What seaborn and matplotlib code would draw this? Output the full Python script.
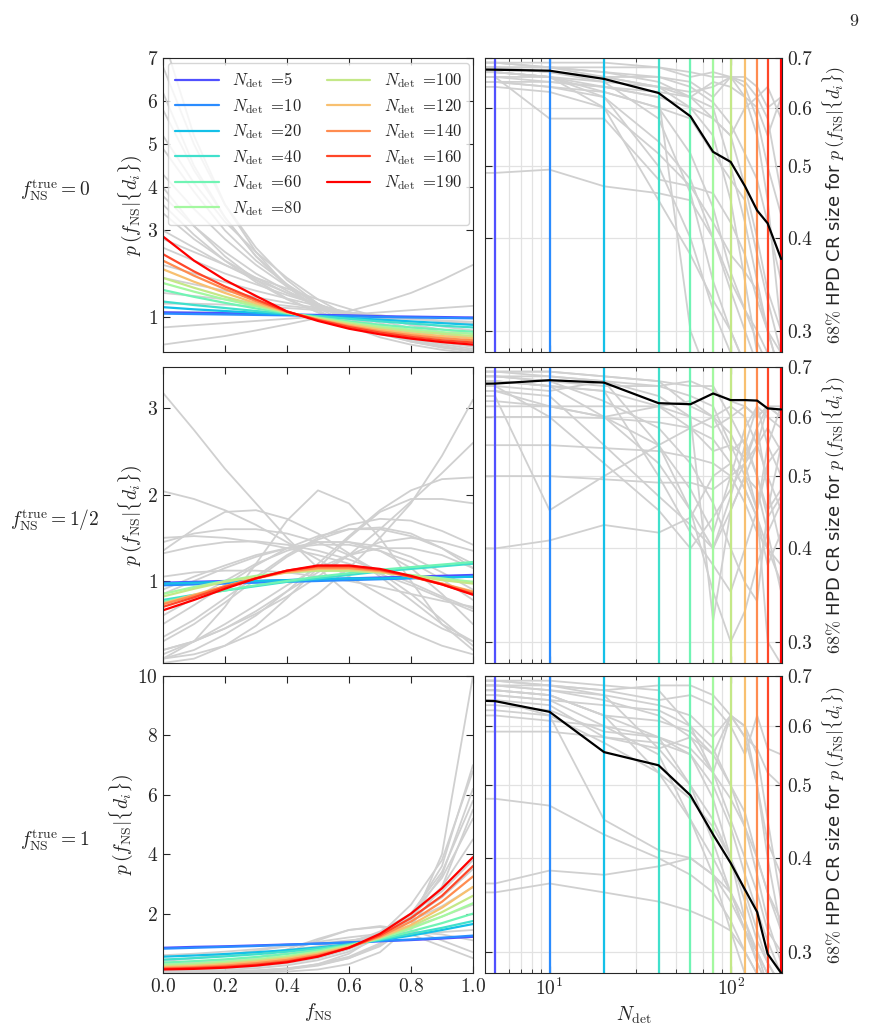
import matplotlib
matplotlib.use("Agg")
import numpy as np
import pandas as pd
import matplotlib.pyplot as plt
import seaborn as sns

# grids
F_GRID = [0.0, 0.1, 0.2, 0.3, 0.4, 0.5, 0.6, 0.7, 0.8, 0.9, 1.0]
N_DET = [5, 10, 20, 40, 60, 80, 100, 120, 140, 160, 190]
N_GRID = [3, 5, 10, 20, 40, 60, 80, 100, 120, 140, 160, 190]
COLORS = ["#5050ff", "#2a8cff", "#14c0e8", "#40e0cc", "#70f4b4", "#a4f8a0",
          "#c4e888", "#f8c070", "#ff8c50", "#ff4628", "#ff0000"]
ROW_LABELS = ["0", "1/2", "1"]

# mean posteriors p(f_NS|{d_i}) for each N_det (rows follow N_DET)
MEAN_F0 = [
    [1.10, 1.09, 1.08, 1.07, 1.05, 1.04, 1.03, 1.01, 1.00, 0.99, 0.98],
    [1.07, 1.06, 1.05, 1.04, 1.03, 1.02, 1.01, 0.99, 0.98, 0.97, 0.96],
    [1.22, 1.17, 1.13, 1.09, 1.05, 1.01, 0.97, 0.93, 0.89, 0.85, 0.81],
    [1.35, 1.27, 1.20, 1.13, 1.07, 1.01, 0.95, 0.89, 0.84, 0.79, 0.75],
    [1.62, 1.46, 1.32, 1.19, 1.08, 0.98, 0.89, 0.81, 0.75, 0.70, 0.65],
    [1.78, 1.58, 1.40, 1.24, 1.09, 0.97, 0.86, 0.77, 0.70, 0.64, 0.60],
    [1.90, 1.67, 1.46, 1.27, 1.10, 0.96, 0.84, 0.74, 0.66, 0.60, 0.55],
    [2.10, 1.81, 1.55, 1.31, 1.10, 0.94, 0.81, 0.70, 0.61, 0.55, 0.50],
    [2.30, 1.95, 1.64, 1.36, 1.11, 0.93, 0.78, 0.66, 0.57, 0.50, 0.45],
    [2.45, 2.05, 1.70, 1.40, 1.12, 0.92, 0.76, 0.63, 0.53, 0.45, 0.40],
    [2.86, 2.30, 1.85, 1.48, 1.12, 0.90, 0.72, 0.59, 0.49, 0.41, 0.35],
]
MEAN_FHALF = [
    [0.98, 0.99, 1.00, 1.00, 1.01, 1.02, 1.03, 1.04, 1.05, 1.06, 1.07],
    [0.95, 0.96, 0.97, 0.98, 0.99, 1.00, 1.01, 1.02, 1.03, 1.04, 1.05],
    [0.97, 0.98, 0.99, 1.00, 1.01, 1.02, 1.03, 1.03, 1.04, 1.04, 1.05],
    [0.78, 0.84, 0.89, 0.94, 0.99, 1.03, 1.07, 1.11, 1.14, 1.17, 1.20],
    [0.76, 0.83, 0.89, 0.95, 1.00, 1.05, 1.09, 1.13, 1.16, 1.19, 1.22],
    [0.85, 0.93, 1.00, 1.06, 1.10, 1.12, 1.12, 1.10, 1.07, 1.03, 0.99],
    [0.82, 0.91, 0.99, 1.05, 1.10, 1.12, 1.12, 1.10, 1.06, 1.01, 0.97],
    [0.74, 0.84, 0.94, 1.03, 1.10, 1.14, 1.14, 1.11, 1.05, 0.97, 0.88],
    [0.73, 0.83, 0.94, 1.03, 1.11, 1.15, 1.15, 1.12, 1.05, 0.97, 0.87],
    [0.70, 0.81, 0.93, 1.03, 1.12, 1.17, 1.17, 1.13, 1.05, 0.96, 0.85],
    [0.66, 0.78, 0.91, 1.03, 1.12, 1.18, 1.18, 1.14, 1.06, 0.96, 0.84],
]
MEAN_F1 = [
    [0.85, 0.88, 0.90, 0.93, 0.96, 0.99, 1.03, 1.07, 1.11, 1.16, 1.22],
    [0.82, 0.85, 0.88, 0.91, 0.95, 0.99, 1.03, 1.08, 1.13, 1.19, 1.26],
    [0.55, 0.59, 0.64, 0.70, 0.77, 0.86, 0.97, 1.10, 1.26, 1.45, 1.65],
    [0.45, 0.50, 0.56, 0.63, 0.72, 0.83, 0.96, 1.12, 1.32, 1.52, 1.75],
    [0.35, 0.40, 0.46, 0.54, 0.64, 0.77, 0.94, 1.14, 1.40, 1.68, 2.00],
    [0.28, 0.32, 0.38, 0.46, 0.57, 0.72, 0.92, 1.17, 1.50, 1.90, 2.35],
    [0.24, 0.28, 0.34, 0.42, 0.53, 0.69, 0.90, 1.19, 1.57, 2.05, 2.60],
    [0.20, 0.24, 0.30, 0.38, 0.49, 0.65, 0.88, 1.20, 1.62, 2.20, 2.90],
    [0.17, 0.20, 0.25, 0.33, 0.44, 0.61, 0.86, 1.23, 1.73, 2.40, 3.25],
    [0.14, 0.17, 0.21, 0.28, 0.39, 0.57, 0.85, 1.27, 1.85, 2.60, 3.60],
    [0.12, 0.14, 0.18, 0.25, 0.36, 0.55, 0.85, 1.32, 2.00, 2.85, 3.90],
]

# individual realisations (grey)
POST_F0 = [
    [7.5, 5.2, 3.6, 2.5, 1.7, 1.15, 0.78, 0.52, 0.35, 0.23, 0.15],
    [6.8, 5.0, 3.6, 2.6, 1.85, 1.3, 0.9, 0.62, 0.42, 0.28, 0.19],
    [6.2, 4.5, 3.3, 2.4, 1.7, 1.2, 0.85, 0.6, 0.42, 0.3, 0.2],
    [5.8, 4.4, 3.3, 2.4, 1.75, 1.25, 0.9, 0.63, 0.44, 0.3, 0.2],
    [5.2, 4.1, 3.2, 2.5, 1.9, 1.4, 1.0, 0.7, 0.48, 0.32, 0.21],
    [4.9, 3.9, 3.0, 2.3, 1.75, 1.3, 0.95, 0.7, 0.5, 0.36, 0.25],
    [4.3, 3.5, 2.8, 2.2, 1.7, 1.3, 0.98, 0.73, 0.54, 0.4, 0.3],
    [4.0, 3.1, 2.4, 1.85, 1.42, 1.1, 0.86, 0.68, 0.55, 0.45, 0.38],
    [3.8, 3.1, 2.5, 2.0, 1.6, 1.25, 0.98, 0.76, 0.58, 0.44, 0.33],
    [3.6, 2.9, 2.3, 1.8, 1.4, 1.1, 0.87, 0.69, 0.56, 0.46, 0.4],
    [3.4, 2.8, 2.3, 1.9, 1.55, 1.25, 1.0, 0.8, 0.63, 0.5, 0.4],
    [3.0, 2.6, 2.2, 1.85, 1.55, 1.28, 1.05, 0.85, 0.68, 0.53, 0.42],
    [2.8, 2.5, 2.2, 1.9, 1.65, 1.4, 1.18, 0.98, 0.8, 0.64, 0.5],
    [2.6, 2.3, 2.0, 1.75, 1.5, 1.28, 1.08, 0.9, 0.74, 0.6, 0.48],
    [2.2, 2.0, 1.8, 1.6, 1.42, 1.25, 1.1, 0.95, 0.82, 0.7, 0.6],
    [1.9, 1.75, 1.6, 1.45, 1.32, 1.2, 1.08, 0.97, 0.87, 0.77, 0.68],
    [1.55, 1.48, 1.4, 1.33, 1.25, 1.18, 1.1, 1.03, 0.96, 0.9, 0.84],
    [1.3, 1.3, 1.28, 1.24, 1.2, 1.15, 1.09, 1.03, 0.96, 0.89, 0.82],
    [1.1, 1.1, 1.1, 1.08, 1.06, 1.03, 1.0, 0.97, 0.94, 0.91, 0.88],
    [0.75, 0.8, 0.85, 0.9, 0.95, 1.0, 1.05, 1.1, 1.15, 1.2, 1.25],
    [0.35, 0.45, 0.55, 0.68, 0.82, 0.97, 1.13, 1.32, 1.55, 1.85, 2.2],
]
POST_FHALF = [
    [3.18, 2.75, 2.3, 1.9, 1.5, 1.15, 0.85, 0.6, 0.4, 0.25, 0.15],
    [0.1, 0.15, 0.25, 0.4, 0.6, 0.85, 1.15, 1.5, 1.9, 2.45, 3.1],
    [2.04, 1.95, 1.82, 1.65, 1.45, 1.25, 1.05, 0.85, 0.65, 0.45, 0.3],
    [0.1, 0.3, 0.7, 1.2, 1.7, 2.05, 1.9, 1.5, 1.0, 0.5, 0.2],
    [0.2, 0.3, 0.45, 0.62, 0.82, 1.05, 1.3, 1.6, 1.92, 2.25, 2.6],
    [1.35, 1.6, 1.8, 1.82, 1.72, 1.55, 1.32, 1.05, 0.78, 0.5, 0.3],
    [0.35, 0.55, 0.8, 1.05, 1.3, 1.5, 1.65, 1.72, 1.7, 1.58, 1.42],
    [0.1, 0.2, 0.38, 0.6, 0.88, 1.2, 1.52, 1.82, 2.05, 2.18, 2.2],
    [1.5, 1.52, 1.5, 1.45, 1.38, 1.3, 1.2, 1.08, 0.95, 0.8, 0.65],
    [0.5, 0.72, 0.95, 1.18, 1.38, 1.52, 1.6, 1.6, 1.52, 1.38, 1.2],
    [0.3, 0.5, 0.75, 1.02, 1.28, 1.48, 1.6, 1.62, 1.55, 1.38, 1.15],
    [1.32, 1.4, 1.45, 1.46, 1.42, 1.35, 1.25, 1.12, 0.98, 0.82, 0.68],
    [0.05, 0.1, 0.25, 0.48, 0.8, 1.15, 1.5, 1.8, 1.95, 1.95, 1.9],
    [0.85, 1.0, 1.15, 1.28, 1.38, 1.45, 1.45, 1.4, 1.28, 1.1, 0.9],
    [1.05, 1.1, 1.12, 1.12, 1.1, 1.05, 1.0, 0.93, 0.85, 0.77, 0.7],
    [0.2, 0.3, 0.45, 0.65, 0.88, 1.1, 1.3, 1.45, 1.5, 1.45, 1.35],
    [1.45, 1.55, 1.6, 1.6, 1.55, 1.45, 1.3, 1.1, 0.85, 0.55, 0.25],
    [0.6, 0.8, 1.0, 1.2, 1.35, 1.45, 1.45, 1.35, 1.15, 0.85, 0.5],
    [0.15, 0.3, 0.5, 0.72, 0.95, 1.15, 1.3, 1.38, 1.38, 1.3, 1.15],
    [0.9, 1.05, 1.18, 1.3, 1.38, 1.42, 1.42, 1.35, 1.22, 1.02, 0.78],
]
POST_F1 = [
    [0.0, 0.0, 0.01, 0.02, 0.05, 0.12, 0.3, 0.7, 1.6, 4.0, 10.0],
    [0.02, 0.03, 0.05, 0.09, 0.16, 0.3, 0.55, 1.0, 1.9, 3.6, 7.0],
    [0.0, 0.01, 0.02, 0.05, 0.12, 0.3, 0.65, 1.3, 2.3, 3.8, 6.8],
    [0.0, 0.0, 0.02, 0.05, 0.12, 0.25, 0.5, 0.95, 1.8, 3.3, 6.2],
    [0.05, 0.07, 0.1, 0.16, 0.26, 0.43, 0.72, 1.2, 2.0, 3.4, 5.8],
    [0.01, 0.02, 0.04, 0.08, 0.15, 0.28, 0.5, 0.9, 1.6, 2.9, 5.5],
    [0.08, 0.1, 0.15, 0.22, 0.33, 0.5, 0.8, 1.25, 2.0, 3.2, 5.2],
    [0.1, 0.13, 0.18, 0.26, 0.38, 0.56, 0.83, 1.25, 1.9, 2.9, 4.5],
    [0.15, 0.2, 0.27, 0.36, 0.5, 0.7, 1.0, 1.4, 2.0, 2.75, 3.8],
    [0.2, 0.25, 0.32, 0.42, 0.55, 0.75, 1.0, 1.35, 1.85, 2.55, 3.5],
    [0.3, 0.35, 0.42, 0.52, 0.65, 0.82, 1.05, 1.35, 1.75, 2.25, 2.9],
    [0.45, 0.5, 0.57, 0.66, 0.77, 0.9, 1.07, 1.28, 1.55, 1.9, 2.3],
    [0.6, 0.65, 0.72, 0.8, 0.9, 1.0, 1.1, 1.2, 1.3, 1.38, 1.45],
    [0.05, 0.1, 0.2, 0.38, 0.7, 1.1, 1.45, 1.55, 1.3, 0.9, 0.5],
    [0.1, 0.18, 0.3, 0.5, 0.8, 1.15, 1.45, 1.58, 1.45, 1.1, 0.7],
    [0.4, 0.5, 0.62, 0.75, 0.9, 1.05, 1.2, 1.32, 1.38, 1.3, 1.1],
]

# 68% HPD credible region sizes vs N_det (values at N_GRID)
HPD_MEAN = [
    [0.676, 0.675, 0.673, 0.656, 0.628, 0.584, 0.523, 0.507, 0.470, 0.436, 0.419, 0.375],
    [0.664, 0.665, 0.672, 0.667, 0.626, 0.624, 0.645, 0.632, 0.632, 0.631, 0.616, 0.614],
    [0.650, 0.648, 0.627, 0.554, 0.532, 0.485, 0.430, 0.394, 0.363, 0.339, 0.298, 0.281],
]
HPD_F0 = [
    [0.69, 0.69, 0.69, 0.69, 0.68, 0.67, 0.66, 0.66, 0.62, 0.55, 0.45, 0.30],
    [0.68, 0.68, 0.68, 0.68, 0.68, 0.66, 0.67, 0.66, 0.66, 0.64, 0.60, 0.62],
    [0.67, 0.67, 0.66, 0.65, 0.64, 0.60, 0.55, 0.45, 0.35, 0.28, 0.25, 0.22],
    [0.66, 0.66, 0.66, 0.64, 0.63, 0.62, 0.65, 0.64, 0.62, 0.60, 0.55, 0.62],
    [0.65, 0.65, 0.64, 0.62, 0.50, 0.40, 0.32, 0.28, 0.25, 0.24, 0.22, 0.20],
    [0.68, 0.68, 0.67, 0.65, 0.58, 0.46, 0.35, 0.30, 0.27, 0.25, 0.23, 0.22],
    [0.64, 0.64, 0.63, 0.60, 0.45, 0.38, 0.33, 0.30, 0.27, 0.25, 0.23, 0.22],
    [0.69, 0.69, 0.68, 0.66, 0.64, 0.62, 0.60, 0.50, 0.42, 0.35, 0.30, 0.26],
    [0.67, 0.67, 0.66, 0.63, 0.60, 0.58, 0.52, 0.48, 0.45, 0.38, 0.33, 0.28],
    [0.49, 0.49, 0.495, 0.47, 0.46, 0.45, 0.40, 0.35, 0.32, 0.30, 0.28, 0.26],
    [0.66, 0.66, 0.58, 0.58, 0.48, 0.47, 0.46, 0.42, 0.38, 0.33, 0.30, 0.28],
    [0.68, 0.68, 0.67, 0.66, 0.66, 0.64, 0.61, 0.57, 0.52, 0.48, 0.42, 0.35],
    [0.65, 0.65, 0.65, 0.64, 0.62, 0.30, 0.25, 0.22, 0.20, 0.20, 0.20, 0.20],
    [0.67, 0.67, 0.66, 0.62, 0.54, 0.48, 0.40, 0.34, 0.30, 0.27, 0.25, 0.23],
    [0.68, 0.68, 0.67, 0.66, 0.64, 0.63, 0.64, 0.66, 0.64, 0.58, 0.50, 0.43],
    [0.66, 0.66, 0.65, 0.64, 0.62, 0.60, 0.58, 0.55, 0.47, 0.40, 0.34, 0.30],
    [0.69, 0.69, 0.68, 0.67, 0.66, 0.65, 0.62, 0.66, 0.65, 0.62, 0.64, 0.58],
    [0.67, 0.67, 0.66, 0.60, 0.52, 0.47, 0.42, 0.38, 0.36, 0.34, 0.30, 0.26],
    [0.65, 0.65, 0.64, 0.63, 0.60, 0.52, 0.44, 0.36, 0.32, 0.29, 0.27, 0.24],
    [0.68, 0.68, 0.68, 0.67, 0.65, 0.62, 0.58, 0.55, 0.60, 0.62, 0.58, 0.46],
]
HPD_FHALF = [
    [0.69, 0.69, 0.69, 0.68, 0.67, 0.66, 0.66, 0.60, 0.55, 0.62, 0.60, 0.58],
    [0.68, 0.68, 0.67, 0.66, 0.66, 0.64, 0.62, 0.55, 0.50, 0.45, 0.52, 0.55],
    [0.67, 0.67, 0.66, 0.60, 0.52, 0.45, 0.40, 0.47, 0.55, 0.50, 0.45, 0.48],
    [0.66, 0.66, 0.65, 0.67, 0.64, 0.60, 0.32, 0.45, 0.50, 0.55, 0.62, 0.60],
    [0.55, 0.55, 0.55, 0.545, 0.54, 0.53, 0.52, 0.50, 0.46, 0.42, 0.40, 0.38],
    [0.50, 0.50, 0.50, 0.495, 0.49, 0.49, 0.48, 0.50, 0.52, 0.55, 0.58, 0.54],
    [0.40, 0.40, 0.41, 0.43, 0.42, 0.44, 0.50, 0.52, 0.48, 0.44, 0.38, 0.42],
    [0.64, 0.64, 0.45, 0.50, 0.55, 0.58, 0.60, 0.62, 0.60, 0.55, 0.50, 0.45],
    [0.69, 0.69, 0.68, 0.67, 0.55, 0.45, 0.35, 0.30, 0.33, 0.38, 0.42, 0.46],
    [0.67, 0.67, 0.66, 0.65, 0.50, 0.42, 0.38, 0.35, 0.40, 0.45, 0.55, 0.62],
    [0.65, 0.65, 0.62, 0.60, 0.62, 0.63, 0.60, 0.57, 0.52, 0.45, 0.30, 0.28],
    [0.68, 0.68, 0.68, 0.67, 0.66, 0.67, 0.65, 0.63, 0.62, 0.60, 0.62, 0.61],
    [0.66, 0.66, 0.60, 0.52, 0.45, 0.40, 0.44, 0.48, 0.52, 0.58, 0.62, 0.60],
    [0.60, 0.60, 0.60, 0.598, 0.59, 0.58, 0.56, 0.52, 0.48, 0.44, 0.40, 0.36],
    [0.67, 0.67, 0.66, 0.65, 0.62, 0.58, 0.54, 0.55, 0.53, 0.58, 0.48, 0.40],
    [0.63, 0.63, 0.62, 0.60, 0.55, 0.48, 0.42, 0.50, 0.58, 0.62, 0.55, 0.50],
    [0.68, 0.68, 0.67, 0.63, 0.58, 0.52, 0.46, 0.40, 0.36, 0.34, 0.45, 0.55],
    [0.65, 0.65, 0.64, 0.55, 0.47, 0.43, 0.40, 0.45, 0.50, 0.48, 0.42, 0.35],
    [0.69, 0.69, 0.69, 0.68, 0.67, 0.62, 0.60, 0.54, 0.56, 0.50, 0.44, 0.47],
    [0.62, 0.62, 0.62, 0.62, 0.62, 0.60, 0.58, 0.60, 0.62, 0.60, 0.62, 0.62],
]
HPD_F1 = [
    [0.69, 0.69, 0.68, 0.67, 0.68, 0.68, 0.66, 0.62, 0.58, 0.56, 0.52, 0.50],
    [0.68, 0.68, 0.68, 0.66, 0.64, 0.62, 0.58, 0.62, 0.60, 0.55, 0.45, 0.35],
    [0.67, 0.67, 0.66, 0.62, 0.58, 0.50, 0.42, 0.36, 0.32, 0.30, 0.27, 0.25],
    [0.66, 0.66, 0.65, 0.60, 0.55, 0.45, 0.38, 0.32, 0.28, 0.26, 0.24, 0.22],
    [0.65, 0.65, 0.64, 0.58, 0.56, 0.50, 0.45, 0.40, 0.33, 0.29, 0.27, 0.25],
    [0.48, 0.48, 0.47, 0.43, 0.40, 0.38, 0.36, 0.33, 0.30, 0.28, 0.26, 0.24],
    [0.36, 0.36, 0.37, 0.36, 0.35, 0.34, 0.33, 0.32, 0.30, 0.28, 0.26, 0.25],
    [0.37, 0.37, 0.385, 0.38, 0.39, 0.40, 0.38, 0.36, 0.32, 0.30, 0.28, 0.26],
    [0.69, 0.69, 0.69, 0.68, 0.67, 0.60, 0.52, 0.45, 0.40, 0.36, 0.32, 0.30],
    [0.68, 0.68, 0.67, 0.66, 0.56, 0.58, 0.55, 0.62, 0.58, 0.50, 0.42, 0.38],
    [0.64, 0.64, 0.63, 0.59, 0.58, 0.55, 0.48, 0.40, 0.35, 0.31, 0.29, 0.27],
    [0.67, 0.67, 0.66, 0.62, 0.52, 0.45, 0.40, 0.36, 0.33, 0.30, 0.28, 0.26],
    [0.66, 0.66, 0.65, 0.64, 0.63, 0.60, 0.56, 0.50, 0.44, 0.38, 0.33, 0.29],
    [0.59, 0.59, 0.59, 0.58, 0.57, 0.55, 0.50, 0.44, 0.38, 0.34, 0.31, 0.28],
    [0.69, 0.69, 0.68, 0.67, 0.65, 0.66, 0.64, 0.60, 0.55, 0.62, 0.56, 0.55],
    [0.65, 0.65, 0.62, 0.45, 0.41, 0.40, 0.38, 0.35, 0.32, 0.29, 0.27, 0.25],
    [0.68, 0.68, 0.67, 0.65, 0.62, 0.58, 0.52, 0.62, 0.60, 0.50, 0.40, 0.32],
    [0.63, 0.63, 0.62, 0.57, 0.52, 0.48, 0.44, 0.40, 0.36, 0.32, 0.29, 0.27],
    [0.67, 0.67, 0.66, 0.62, 0.61, 0.59, 0.55, 0.50, 0.46, 0.40, 0.36, 0.32],
    [0.62, 0.62, 0.61, 0.60, 0.58, 0.56, 0.52, 0.48, 0.44, 0.40, 0.36, 0.33],
]

MEANS = [MEAN_F0, MEAN_FHALF, MEAN_F1]
POSTS = [POST_F0, POST_FHALF, POST_F1]
HPDS = [HPD_F0, HPD_FHALF, HPD_F1]
LEFT_YLIM = [(0.18, 7.0), (0.05, 3.48), (0.0, 10.0)]
LEFT_YTICKS = [[1, 3, 4, 5, 6, 7], [1, 2, 3], [2, 4, 6, 8, 10]]


def to_long(curves, xs, xname, yname):
    rows = []
    for k, c in enumerate(curves):
        for x, y in zip(xs, c):
            rows.append({"run": k, xname: x, yname: y})
    return pd.DataFrame(rows)


sns.set_style("ticks")
plt.rcParams["font.family"] = ["cmr10", "DejaVu Sans"]
plt.rcParams["mathtext.fontset"] = "cm"
plt.rcParams["axes.formatter.use_mathtext"] = True
plt.rcParams["axes.unicode_minus"] = False

fig = plt.figure(figsize=(8.71, 10.25), dpi=100)
bottoms = [0.6566, 0.3532, 0.0507]
heights = [0.2868, 0.2888, 0.2898]
labels = [r"$N_{\rm det}\ {=}\!\mathsf{" + str(n) + "}$" for n in N_DET]
gray = "#d0d0d0"
sans = "DejaVu Sans"

for i in range(3):
    axl = fig.add_axes([0.1871, bottoms[i], 0.3559, heights[i]])
    axr = fig.add_axes([0.5568, bottoms[i], 0.341, heights[i]])

    # left: posteriors
    gdf = to_long(POSTS[i], F_GRID, "f", "p")
    sns.lineplot(data=gdf, x="f", y="p", units="run", estimator=None,
                 color=gray, lw=1.3, ax=axl, legend=False)
    mdf = to_long(MEANS[i], F_GRID, "f", "p")
    mdf["label"] = [labels[r] for r in mdf["run"]]
    sns.lineplot(data=mdf, x="f", y="p", hue="label", hue_order=labels,
                 palette=COLORS, lw=1.6, ax=axl, legend=(i == 0))
    axl.set_xlim(0, 1)
    axl.set_ylim(*LEFT_YLIM[i])
    axl.set_xticks([0.0, 0.2, 0.4, 0.6, 0.8, 1.0])
    axl.set_yticks(LEFT_YTICKS[i])
    axl.tick_params(direction="in", top=True, right=True, length=5,
                    labelsize=14, labelbottom=(i == 2))
    axl.set_ylabel(r"$p\,(f_{\rm NS}|\{d_i\})$", fontsize=14, labelpad=2)
    axl.set_xlabel(r"$f_{\rm NS}$" if i == 2 else "", fontsize=14)
    if i == 0:
        h, l = axl.get_legend_handles_labels()
        axl.legend(h, l, ncol=2, loc="upper left", fontsize=12,
                   frameon=True, fancybox=True, edgecolor="#cccccc",
                   handlelength=2.6, columnspacing=1.5, borderaxespad=0.3,
                   labelspacing=0.4, handletextpad=0.8, borderpad=0.45)

    # right: HPD credible region size
    hdf = to_long(HPDS[i], N_GRID, "N", "s")
    sns.lineplot(data=hdf, x="N", y="s", units="run", estimator=None,
                 color=gray, lw=1.3, ax=axr, legend=False)
    for n, c in zip(N_DET, COLORS):
        axr.axvline(n, color=c, lw=1.6)
    bdf = pd.DataFrame({"N": N_GRID, "s": HPD_MEAN[i]})
    sns.lineplot(data=bdf, x="N", y="s", color="black", lw=1.6, ax=axr)
    axr.set_xscale("log")
    axr.set_yscale("log")
    axr.set_xlim(4.4, 192)
    axr.set_ylim(0.281, 0.7)
    axr.yaxis.set_major_locator(matplotlib.ticker.FixedLocator([0.3, 0.4, 0.5, 0.6, 0.7]))
    axr.yaxis.set_major_formatter(matplotlib.ticker.FixedFormatter(["0.3", "0.4", "0.5", "0.6", "0.7"]))
    axr.yaxis.set_minor_locator(matplotlib.ticker.NullLocator())
    axr.yaxis.tick_right()
    axr.yaxis.set_label_position("right")
    axr.grid(True, which="both", axis="x", color="#e2e2e2", lw=0.9)
    axr.grid(True, which="major", axis="y", color="#e2e2e2", lw=0.9)
    axr.set_axisbelow(True)
    axr.tick_params(which="major", direction="in", top=True, bottom=True,
                    left=True, right=True, length=5, labelsize=14,
                    labelbottom=(i == 2), labelleft=False, labelright=True)
    axr.tick_params(which="minor", direction="in", top=True, bottom=True,
                    length=3, labelbottom=False)
    axr.set_ylabel(r"$68\%$ HPD CR size for $p\,(f_{\rm NS}|\{d_i\})$",
                   fontsize=13, family=sans, labelpad=6)
    axr.set_xlabel(r"$N_{\rm det}$" if i == 2 else "", fontsize=14)

    fig.text(0.063, [0.8146, 0.4927, 0.1805][i],
             r"$f_{\rm NS}^{\rm true}=" + ROW_LABELS[i] + "$",
             fontsize=14, ha="center", va="center")

fig.text(0.985, 0.987, "9", ha="right", va="top", fontsize=13)

plt.savefig("out.png", dpi=100)
